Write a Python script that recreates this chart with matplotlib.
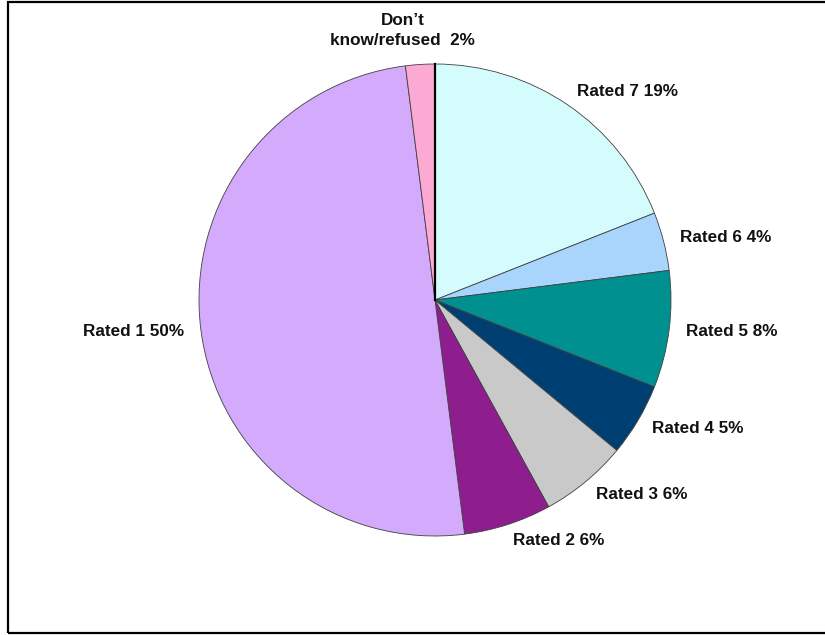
import numpy as np
import matplotlib.pyplot as plt
from matplotlib.patches import Rectangle

# slice data, clockwise from 12 o'clock
categories = ["Rated 7", "Rated 6", "Rated 5", "Rated 4", "Rated 3",
              "Rated 2", "Rated 1", "Don\u2019t\nknow/refused "]
shares = [19, 4, 8, 5, 6, 6, 50, 2]
colors = ["#D4FCFC", "#A9D5FC", "#009090", "#003F72", "#C9C9C9",
          "#8E1E8E", "#D4AAFC", "#FCA9D4"]

plt.rcParams['font.family'] = ['Liberation Sans', 'DejaVu Sans']

W, H, dpi = 825, 635, 100
fig = plt.figure(figsize=(W / dpi, H / dpi), dpi=dpi)
ax = fig.add_axes([0, 0, 1, 1])

labels = ["%s %d%%" % (c, s) for c, s in zip(categories, shares)]
start = 90
wedges, texts = ax.pie(shares, colors=colors, startangle=start,
                       counterclock=False, labels=labels, labeldistance=1.07,
                       radius=1,
                       wedgeprops=dict(edgecolor="#404040", linewidth=0.6),
                       textprops=dict(fontsize=12.3, fontweight='bold',
                                      color='#111111'))

# pie centre / radius in pixels (set after pie, which resets limits)
cx, cy, rad = 435, 300, 236
ax.set_xlim(-cx / rad, (W - cx) / rad)
ax.set_ylim(-(H - cy) / rad, cy / rad)
ax.set_aspect('auto')
ax.axis('off')

# last label sits above the pie, centred
texts[-1].set_ha('center')
texts[-1].set_multialignment('center')
texts[-1].set_va('bottom')
texts[-1].set_linespacing(1.45)
x, y = texts[-1].get_position()
texts[-1].set_position((x - 0.07, y))

# thick black line at start angle
a = np.deg2rad(start)
ax.plot([0, np.cos(a)], [0, np.sin(a)], color='black', lw=1.6, zorder=5)

# frame around the chart
fig.add_artist(Rectangle((8 / W, 2 / H), 1.2, (631) / H, transform=fig.transFigure,
                         fill=False, edgecolor='black', lw=1.6))

fig.savefig("out.png", dpi=dpi)
